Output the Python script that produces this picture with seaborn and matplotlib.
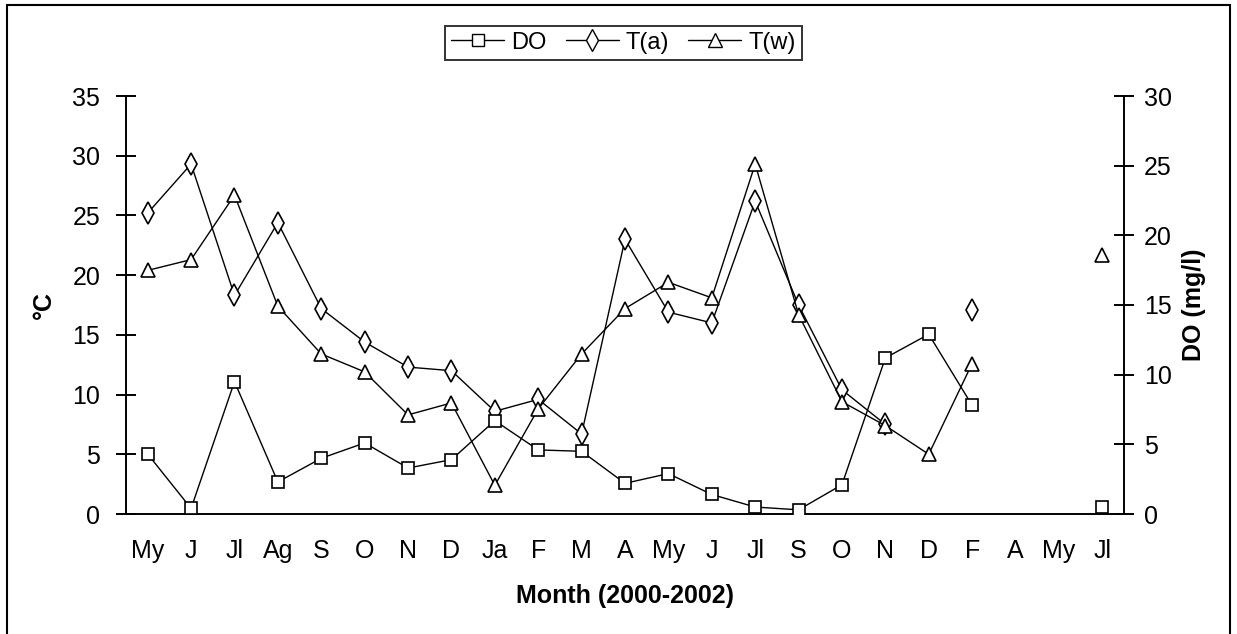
import numpy as np
import pandas as pd
import matplotlib
matplotlib.use("Agg")
import matplotlib.pyplot as plt
import seaborn as sns
from matplotlib.lines import Line2D
from matplotlib.patches import Rectangle
from matplotlib.ticker import FixedLocator, NullFormatter, FixedFormatter

nan = np.nan
months = ["My", "J", "Jl", "Ag", "S", "O", "N", "D", "Ja", "F", "M", "A",
          "My", "J", "Jl", "S", "O", "N", "D", "F", "A", "My", "Jl"]
do_mgl = [4.3, 0.4, 9.5, 2.3, 4.0, 5.1, 3.3, 3.9, 6.7, 4.6, 4.5, 2.2,
          2.9, 1.4, 0.5, 0.3, 2.1, 11.2, 12.9, 7.8, nan, nan, 0.5]
t_air = [25.2, 29.3, 18.3, 24.4, 17.2, 14.4, 12.3, 12.0, 8.6, 9.6, 6.7, 23.0,
         16.9, 16.0, 26.2, 17.5, 10.4, 7.5, nan, 17.1, nan, nan, nan]
t_water = [20.4, 21.3, 26.7, 17.4, 13.4, 11.9, 8.3, 9.3, 2.4, 8.8, 13.4, 17.2,
           19.4, 18.1, 29.3, 16.7, 9.4, 7.4, 5.0, 12.6, nan, nan, 21.7]
left_ticks = [0, 5, 10, 15, 20, 25, 30, 35]
right_ticks = [0, 5, 10, 15, 20, 25, 30]

sns.set_style("white")
plt.rcParams["font.family"] = ["Liberation Sans", "DejaVu Sans"]
for k in ("text.color", "axes.labelcolor", "xtick.color", "ytick.color"):
    plt.rcParams[k] = "black"

W, H = 1237, 634
fig = plt.figure(figsize=(W / 100, H / 100), dpi=100)
ax = fig.add_axes([126 / W, 1 - 514 / H, (1124 - 126) / W, (514 - 96) / H])
ax2 = ax.twinx()


def segments(values):
    arr = np.array(values, dtype=float)
    df = pd.DataFrame({"x": np.arange(len(arr)), "y": arr,
                       "seg": np.cumsum(np.isnan(arr))})
    return df.dropna()


common = dict(estimator=None, color="black", linewidth=1.0,
              markerfacecolor="white", markeredgecolor="black",
              markeredgewidth=1.2, legend=False)

sns.lineplot(data=segments(t_air), x="x", y="y", units="seg", ax=ax,
             marker="d", markersize=11, **common)
sns.lineplot(data=segments(t_water), x="x", y="y", units="seg", ax=ax,
             marker="^", markersize=10, **common)
sns.lineplot(data=segments(do_mgl), x="x", y="y", units="seg", ax=ax2,
             marker="s", markersize=9, **common)

n = len(months)
for a in (ax, ax2):
    a.set_xlim(-0.5, n - 0.5)
    a.set_xlabel("")
    a.set_ylabel("")
    for s in a.spines.values():
        s.set_visible(False)
        s.set_linewidth(1.4)
        s.set_color("black")

ax.set_ylim(0, 35)
ax2.set_ylim(0, 30)
ax.spines["left"].set_visible(True)
ax.spines["bottom"].set_visible(True)
ax2.spines["right"].set_visible(True)

ax.xaxis.set_major_locator(FixedLocator(np.arange(-0.5, n, 1.0)))
ax.xaxis.set_major_formatter(NullFormatter())
ax.xaxis.set_minor_locator(FixedLocator(np.arange(n)))
ax.xaxis.set_minor_formatter(FixedFormatter(months))
ax.tick_params(axis="x", which="major", direction="inout", length=15, width=1.4)
ax.tick_params(axis="x", which="minor", length=0, labelsize=18, pad=18)

ax.set_yticks(left_ticks)
ax.tick_params(axis="y", direction="inout", length=15, width=1.4,
               labelsize=18, pad=11, left=True)
ax2.set_yticks(right_ticks)
ax2.tick_params(axis="y", direction="inout", length=15, width=1.4,
                labelsize=18, pad=7, right=True)

ax.set_xlabel("Month (2000-2002)", fontsize=18, fontweight="bold", labelpad=15)
ax.set_ylabel("°C", fontsize=18, fontweight="bold", labelpad=12)
ax2.set_ylabel("DO (mg/l)", fontsize=18, fontweight="bold", labelpad=7)

handles = [
    Line2D([], [], color="black", lw=1.0, marker="s", markersize=9,
           markerfacecolor="white", markeredgecolor="black"),
    Line2D([], [], color="black", lw=1.0, marker="d", markersize=11,
           markerfacecolor="white", markeredgecolor="black"),
    Line2D([], [], color="black", lw=1.0, marker="^", markersize=10,
           markerfacecolor="white", markeredgecolor="black"),
]
leg = fig.legend(handles, ["DO", "T(a)", "T(w)"], loc="upper center",
                 bbox_to_anchor=(623.5 / W, 1 - 14 / H), ncol=3, fontsize=17,
                 frameon=True, fancybox=False, edgecolor="black",
                 handlelength=2.25, handletextpad=0.3, columnspacing=0.8,
                 borderpad=0.25)
leg.get_frame().set_linewidth(1.4)

fig.patches.append(Rectangle((7 / W, -0.05), (1230 - 7) / W, 1.05 - 5 / H,
                             transform=fig.transFigure, fill=False,
                             edgecolor="black", linewidth=1.5))

fig.savefig("out.png", dpi=100)
